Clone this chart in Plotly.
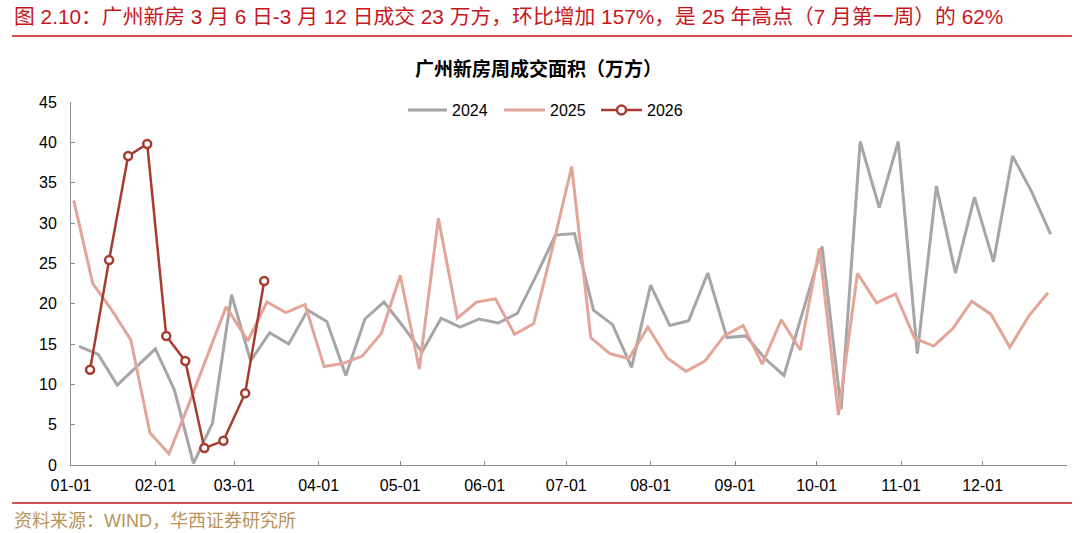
import plotly.graph_objects as go
import pandas as pd

# ---- data ----
v2024 = [14.7, 13.7, 9.9, 12.1, 14.4, 9.3, 0.2, 5.2, 21.1, 12.9, 16.4, 15.0, 19.2, 17.8,
         11.1, 18.1, 20.2, 17.2, 14.0, 18.2, 17.1, 18.1, 17.6, 18.8, 23.5, 28.5, 28.7, 19.2,
         17.4, 12.1, 22.3, 17.3, 17.9, 23.8, 15.8, 16.0, 13.2, 11.1, 19.1, 27.1, 6.9, 40.1,
         31.9, 40.1, 13.8, 34.6, 23.8, 33.2, 25.2, 38.3, 33.9, 28.6]
v2025 = [32.8, 22.5, 19.2, 15.5, 4.0, 1.4, 7.3, 13.4, 19.6, 15.4, 20.2, 18.9, 19.9, 12.2,
         12.6, 13.5, 16.3, 23.5, 11.9, 30.6, 18.2, 20.2, 20.6, 16.2, 17.5, 27.0, 37.0, 15.8,
         13.8, 13.2, 17.1, 13.3, 11.6, 12.9, 16.0, 17.3, 12.5, 18.0, 14.25, 26.85, 6.2, 23.75,
         20.1, 21.2, 15.7, 14.75, 16.9, 20.3, 18.7, 14.6, 18.5, 21.35]
v2026 = [11.8, 25.4, 38.3, 39.8, 16.0, 12.9, 2.1, 3.0, 8.9, 22.8]

start2024, start2025, start2026 = "2024-01-04", "2025-01-02", "2026-01-08"
series_names = ["2024", "2025", "2026"]
tick_vals = ["2024-%02d-01" % m for m in range(1, 13)] + ["2025-01-01"]
tick_text = ["%02d-01" % m for m in range(1, 13)] + [""]

title_text = "图 2.10：广州新房 3 月 6 日-3 月 12 日成交 23 万方，环比增加 157%，是 25 年高点（7 月第一周）的 62%"
chart_title = "广州新房周成交面积（万方）"
source_text = "资料来源：WIND，华西证券研究所"

C2024, C2025, C2026 = "#A6A6A6", "#E2A597", "#A63C30"
RED, GOLD = "#C8161D", "#B8935A"


def to_axis_year(start, n):
    return [d.replace(year=2024).strftime("%Y-%m-%d")
            for d in pd.date_range(start, periods=n, freq="7D")]


x2024 = to_axis_year(start2024, len(v2024))
x2025 = to_axis_year(start2025, len(v2025))
x2026 = to_axis_year(start2026, len(v2026))

W, H = 1080, 533
L, R, T, B = 71, 13, 102, 68
PW, PH = W - L - R, H - T - B


def px(x):
    return (x - L) / PW


def py(y):
    return (H - B - y) / PH


FONT = "Liberation Sans, Arial, Noto Sans CJK SC, sans-serif"

fig = go.Figure()
fig.add_trace(go.Scatter(x=x2024, y=v2024, name=series_names[0], mode="lines",
                         line=dict(color=C2024, width=3)))
fig.add_trace(go.Scatter(x=x2025, y=v2025, name=series_names[1], mode="lines",
                         line=dict(color=C2025, width=3)))
fig.add_trace(go.Scatter(x=x2026, y=v2026, name=series_names[2], mode="lines+markers",
                         line=dict(color=C2026, width=2.5),
                         marker=dict(symbol="circle", size=8, color="white",
                                     line=dict(color=C2026, width=2.5))))

fig.update_layout(
    width=W, height=H,
    margin=dict(l=L, r=R, t=T, b=B),
    paper_bgcolor="white", plot_bgcolor="white",
    font=dict(family=FONT, size=16, color="#000000"),
    showlegend=False,
    xaxis=dict(type="date", range=["2024-01-01", "2025-01-01"],
               tickmode="array", tickvals=tick_vals, ticktext=tick_text,
               showgrid=False, zeroline=False,
               showline=True, linecolor="#8C8C8C", linewidth=1,
               ticks="inside", ticklen=4, tickcolor="#8C8C8C", tickwidth=1,
               tickfont=dict(size=16, color="#000000"), ticklabelstandoff=6),
    yaxis=dict(range=[0, 45], dtick=5, tick0=0,
               showgrid=False, zeroline=False,
               showline=True, linecolor="#8C8C8C", linewidth=1,
               ticks="inside", ticklen=4, tickcolor="#8C8C8C", tickwidth=1,
               tickfont=dict(size=16, color="#000000"), ticklabelstandoff=10),
)

annotations = [
    dict(text=title_text, x=px(12), y=py(16), xanchor="left", yanchor="middle",
         font=dict(size=20.8, color=RED, family=FONT)),
    dict(text="<b>" + chart_title + "</b>", x=px(538), y=py(69), xanchor="center",
         yanchor="middle", font=dict(size=19, color="#000000", family=FONT)),
    dict(text=source_text, x=px(12), y=py(521), xanchor="left", yanchor="middle",
         font=dict(size=18, color=GOLD, family=FONT)),
]

# legend drawn as line samples + text
legend_items = [(series_names[0], C2024, 408, 447, 3, False),
                (series_names[1], C2025, 504, 545, 3, False),
                (series_names[2], C2026, 601, 642, 2.5, True)]
LEG_Y = 110
shapes = [
    dict(type="line", xref="paper", yref="paper", x0=px(12), x1=px(1072),
         y0=py(36), y1=py(36), line=dict(color=RED, width=1.5)),
    dict(type="line", xref="paper", yref="paper", x0=px(12), x1=px(1072),
         y0=py(503), y1=py(503), line=dict(color=RED, width=1.5)),
]
for name, col, xa, xb, lw, mk in legend_items:
    shapes.append(dict(type="line", xref="paper", yref="paper", x0=px(xa), x1=px(xb),
                       y0=py(LEG_Y), y1=py(LEG_Y), line=dict(color=col, width=lw)))
    if mk:
        cx = (xa + xb) / 2
        shapes.append(dict(type="circle", xref="paper", yref="paper",
                           x0=px(cx - 4.5), x1=px(cx + 4.5),
                           y0=py(LEG_Y + 4.5), y1=py(LEG_Y - 4.5),
                           fillcolor="white", line=dict(color=col, width=2.5)))
    annotations.append(dict(text=name, x=px(xb + 3), y=py(LEG_Y), xanchor="left",
                            yanchor="middle", font=dict(size=16, color="#000000", family=FONT)))

for a in annotations:
    a.update(xref="paper", yref="paper", showarrow=False)
fig.update_layout(annotations=annotations, shapes=shapes)

fig.write_html("out.html", config={"displayModeBar": False},
               post_script="document.body.style.margin='0px';document.body.style.padding='0px';")
